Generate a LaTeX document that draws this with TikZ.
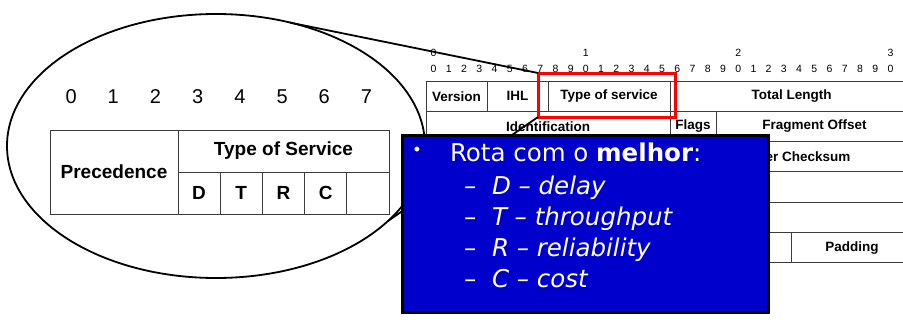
\documentclass[tikz,border=0pt]{standalone}
\usepackage{fontspec}
\setmainfont{Liberation Sans}
\newfontfamily\slidefont{DejaVu Sans}
\usetikzlibrary{shapes.geometric}
\definecolor{slideblue}{RGB}{0,0,204}
\definecolor{gridline}{RGB}{60,60,60}
\begin{document}
\begin{tikzpicture}[x=1pt,y=-1pt,
  every node/.style={inner sep=0pt,outer sep=0pt},
  bigcell/.style={draw=gridline,line width=1pt,font=\fontsize{19}{23}\selectfont\bfseries},
  hdrcell/.style={draw=gridline,line width=1pt,minimum height=30.3pt,font=\fontsize{13.5}{16}\selectfont\bfseries},
  bitnum/.style={font=\fontsize{20}{24}\selectfont},
  smallbit/.style={font=\fontsize{10.5}{12}\selectfont},
  slidetext/.style={text=white,font=\slidefont\fontsize{24.5}{29}\selectfont,anchor=base west},
  itemtext/.style={text=white,font=\slidefont\itshape\fontsize{24.5}{29}\selectfont,anchor=base west},
  lensline/.style={line width=1.8pt,black}]
\useasboundingbox (0,0) rectangle (903,327);

% magnifying lens around the ToS byte
\node[draw,ellipse,line width=1.8pt,minimum width=418pt,minimum height=264pt] (lens) at (216,146) {};

% bit numbers of the ToS byte
\foreach \i in {0,...,7}
  \node[bitnum] (b\i) at ({71.1+42.2*\i},97) {\i};

% ToS byte layout
\node[bigcell,minimum width=128pt,minimum height=84pt] (prec) at (114,172) {Precedence};
\node[bigcell,minimum width=211pt,minimum height=42pt] (tosname) at (283.5,151) {Type of Service};
\foreach \lab [count=\k from 0] in {D,T,R,C,{}}
  \node[bigcell,minimum width=42.2pt,minimum height=42pt] (tos\k) at ({199.1+42.2*\k},193) {\lab};

% IPv4 header: bit ruler
\foreach \i in {0,...,30}{
  \pgfmathtruncatemacro{\d}{mod(\i,10)}
  \node[smallbit] (r\i) at ({433.6+15.23*\i},69) {\d};
}
\node[smallbit] (t0) at (433.6,53) {0};
\node[smallbit] (t1) at (585.9,53) {1};
\node[smallbit] (t2) at (738.2,53) {2};
\node[smallbit] (t3) at (890.5,53) {3};

% IPv4 header rows
\node[hdrcell,minimum width=61pt] (ver) at (456.5,96.2) {Version};
\node[hdrcell,minimum width=61pt] (ihl) at (517.5,96.2) {IHL};
\node[hdrcell,minimum width=122pt] (tos) at (609,96.2) {Type of service};
\node[hdrcell,minimum width=243pt] (tlen) at (791.5,96.2) {Total Length};

\node[hdrcell,minimum width=244pt] (ident) at (548,126.5) {Identification};
\node[hdrcell,minimum width=46pt] (flags) at (693,126.5) {Flags};
\node[hdrcell,minimum width=197pt] (frag) at (814.5,126.5) {Fragment Offset};

\node[hdrcell,minimum width=122pt] (ttl) at (487,156.8) {};
\node[hdrcell,minimum width=122pt] (proto) at (609,156.8) {};
\node[hdrcell,minimum width=243pt] (chk) at (791.5,156.8) {Header Checksum};

\node[hdrcell,minimum width=487pt] (src) at (669.5,187.1) {};
\node[hdrcell,minimum width=487pt] (dst) at (669.5,217.4) {};

\node[hdrcell,minimum width=365pt] (opt) at (608.5,247.7) {};
\node[hdrcell,minimum width=122pt] (pad) at (852,247.7) {Padding};

% highlight of the ToS field
\node[draw=red,line width=3pt,minimum width=137pt,minimum height=44pt] (tosframe) at (606.5,95) {};

% lens connectors
\coordinate (e1) at (290,22.6);
\coordinate (e2) at (388,221);
\draw[lensline] (e1) -- (tosframe.north west);
\draw[lensline] (e2) -- (tosframe.south west);

% explanation box
\node[draw=black,fill=slideblue,line width=3pt,minimum width=366pt,minimum height=177pt] (rota) at (585,223.5) {};
\node[text=white,font=\fontsize{18}{22}\selectfont] (bul) at (417,151) {\textbullet};
\node[slidetext] (head) at (450,161) {Rota com o \textbf{melhor}:};
\foreach \txt [count=\k from 0] in {{D – delay},{T – throughput},{R – reliability},{C – cost}}{
  \node[slidetext] (dash\k) at (464,{194+31.3*\k}) {–};
  \node[itemtext] (item\k) at (492,{194+31.3*\k}) {\txt};
}
\end{tikzpicture}
\end{document}
